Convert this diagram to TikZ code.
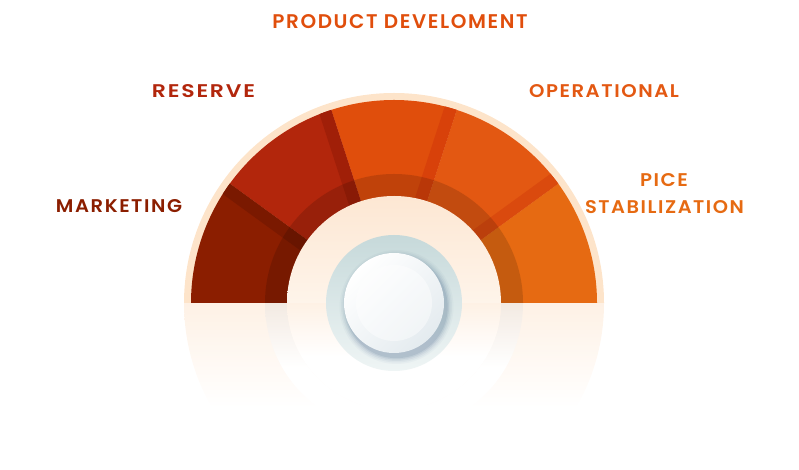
\documentclass[tikz,border=0pt]{standalone}
\usepackage{fontspec}
\setmainfont{Poppins}
\newfontfamily\labelfont{Poppins SemiBold}[LetterSpace=8]
\usetikzlibrary{calc}

\definecolor{mkC}{HTML}{8B1E00}
\definecolor{mkS}{HTML}{7A1900}
\definecolor{rsC}{HTML}{B2260C}
\definecolor{rsS}{HTML}{A01F08}
\definecolor{pdC}{HTML}{E04E0C}
\definecolor{pdS}{HTML}{D8410A}
\definecolor{opC}{HTML}{E35812}
\definecolor{opS}{HTML}{DA4A0E}
\definecolor{psC}{HTML}{E66A12}
\definecolor{creamRing}{HTML}{FDE4CA}
\definecolor{innerTop}{HTML}{FDE7D3}
\definecolor{innerBot}{HTML}{FEF4EA}
\definecolor{reflTop}{HTML}{FEF1E5}
\definecolor{bandLow}{HTML}{F3EAE2}
\definecolor{ringTop}{HTML}{C6D9DA}
\definecolor{ringBot}{HTML}{EFF5F5}
\definecolor{discBot}{HTML}{E4EBEF}
\definecolor{shadowC}{HTML}{4F6E8F}

\newcommand\gaugelabel[3]{\resizebox{#1pt}{#2pt}{\labelfont #3}}

\tikzset{
  lbl/.style={inner sep=0pt, anchor=center, text=#1}
}

\begin{document}
\begin{tikzpicture}[x=1pt,y=1pt]
\useasboundingbox (0,0) rectangle (799,470);
\coordinate (c) at (394,167);

% soft reflection under the gauge
\shade[top color=reflTop, bottom color=white, middle color=white]
  ($(c)+(-210,0)$) arc[start angle=180, end angle=360, radius=210] -- cycle;
\shade[top color=bandLow, bottom color=white, middle color=white, even odd rule]
  ($(c)+(-129,0)$) arc[start angle=180, end angle=360, radius=129] -- cycle
  ($(c)+(-107,0)$) arc[start angle=180, end angle=360, radius=107] -- cycle;
\shade[top color=reflTop, bottom color=white, middle color=white]
  ($(c)+(-107,0)$) arc[start angle=180, end angle=360, radius=107] -- cycle;

% cream rim
\fill[creamRing] ($(c)+(-210,0)$) arc[start angle=180, end angle=0, radius=210] -- cycle;

% gauge segments
\foreach \a/\b/\col in {180/144/mkC, 144/108/rsC, 108/72/pdC, 72/36/opC, 36/0/psC}
  \fill[\col] (c) -- ++(\a:203) arc[start angle=\a, end angle=\b, radius=203] -- cycle;

% shaded strips along the segment borders
\begin{scope}
  \clip ($(c)+(-203,0)$) arc[start angle=180, end angle=0, radius=203] -- cycle;
  \foreach \a/\col in {144/mkS, 108/rsS, 72/pdS, 36/opS}
    \fill[\col, shift={(c)}, rotate=\a] (0,0) rectangle (210,12.5);
\end{scope}

% dark inner band
\fill[black, fill opacity=0.14] ($(c)+(-129,0)$) arc[start angle=180, end angle=0, radius=129] -- cycle;

% inner cream disc
\shade[top color=innerTop, bottom color=innerBot]
  ($(c)+(-107,0)$) arc[start angle=180, end angle=0, radius=107] -- cycle;

% knob
\shade[top color=ringTop, bottom color=ringBot] (c) circle (68);
\foreach \r/\o in {57/0.04, 55.5/0.06, 54/0.08, 52.5/0.11, 51.2/0.14}
  \fill[shadowC, fill opacity=\o] ($(c)+(2.5,-4)$) circle (\r);
\shade[top color=white, bottom color=discBot, shading angle=45] (c) circle (50);
\fill[white, fill opacity=0.45] (c) circle (38);

% labels
\node[lbl=pdC] (prod) at (400,448) {\gaugelabel{255}{14}{PRODUCT DEVELOMENT}};
\node[lbl=rsC] (res) at (203.5,378.5) {\gaugelabel{103}{13}{RESERVE}};
\node[lbl=mkC] (mkt) at (119,263.5) {\gaugelabel{126}{13}{MARKETING}};
\node[lbl=opC] (ops) at (604,378.5) {\gaugelabel{150}{13}{OPERATIONAL}};
\node[lbl=psC] (pice) at (664,289.5) {\gaugelabel{48}{13}{PICE}};
\node[lbl=psC] (stab) at (664.5,262.5) {\gaugelabel{159}{13}{STABILIZATION}};
\end{tikzpicture}
\end{document}
